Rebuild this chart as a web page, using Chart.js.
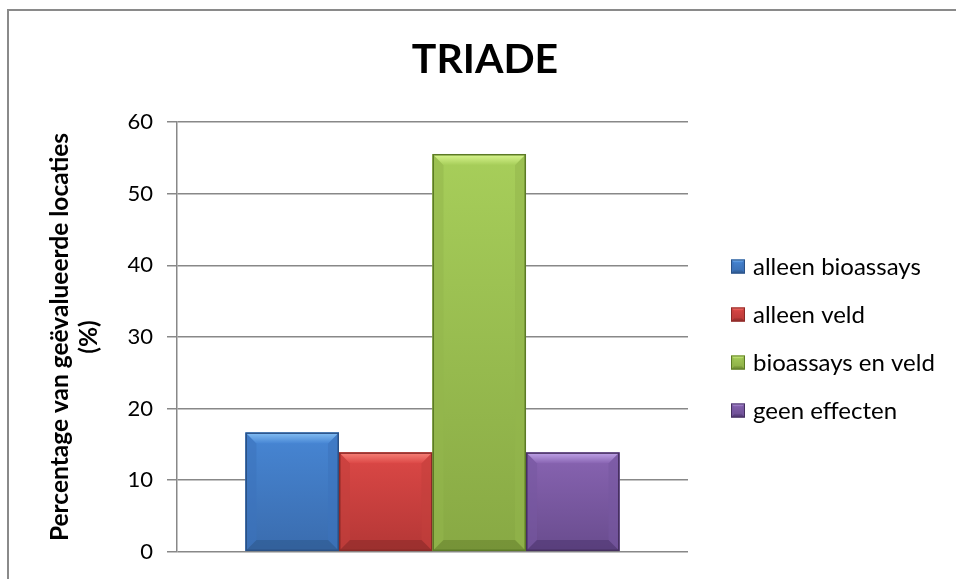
<!DOCTYPE html>
<html>
<head>
<meta charset="utf-8">
<title>TRIADE</title>
<script src="https://cdn.jsdelivr.net/npm/chart.js@4.4.1/dist/chart.umd.min.js"></script>
<style>
  html, body { margin: 0; padding: 0; background: #fff; }
  #wrap { width: 956px; height: 579px; position: relative; }
</style>
</head>
<body>
<div id="wrap"><canvas id="triadeChart"></canvas></div>
<script>
const categories = [''];
const seriesNames = ['alleen bioassays', 'alleen veld', 'bioassays en veld', 'geen effecten'];
const seriesValues = [16.67, 13.89, 55.56, 13.89];
const yTicks = [0, 10, 20, 30, 40, 50, 60];

// body gradient, top bevel, bottom bevel, side bevel, outline
const palette = [
    { body: ['#4786d4', '#3a6cae'], top: '#86c0f4', bottom: '#2f5a90', side: '#3d73bb', line: '#2a5186' },
    { body: ['#dc4846', '#b43736'], top: '#f8847a', bottom: '#8c2b2a', side: '#c33f3d', line: '#8a2927' },
    { body: ['#a7ce5a', '#88a944'], top: '#dcf892', bottom: '#6a8631', side: '#94b74c', line: '#5c7a26' },
    { body: ['#8864b2', '#694c8e'], top: '#c2a6ea', bottom: '#4f3771', side: '#7757a0', line: '#45305f' }
];

const FONT = 'Lato, "Open Sans", sans-serif';

function bevelRect(ctx, p, l, t, r, b, bv, lw) {
    ctx.save();
    const g = ctx.createLinearGradient(0, t, 0, b);
    g.addColorStop(0, p.body[0]);
    g.addColorStop(1, p.body[1]);
    ctx.fillStyle = g;
    ctx.fillRect(l, t, r - l, b - t);

    // sides
    ctx.fillStyle = p.side;
    ctx.globalAlpha = 0.55;
    ctx.beginPath();
    ctx.moveTo(l, t); ctx.lineTo(l + bv, t + bv); ctx.lineTo(l + bv, b - bv); ctx.lineTo(l, b);
    ctx.closePath(); ctx.fill();
    ctx.beginPath();
    ctx.moveTo(r, t); ctx.lineTo(r - bv, t + bv); ctx.lineTo(r - bv, b - bv); ctx.lineTo(r, b);
    ctx.closePath(); ctx.fill();
    ctx.globalAlpha = 1;

    // top
    const tg = ctx.createLinearGradient(0, t, 0, t + bv);
    tg.addColorStop(0, p.top);
    tg.addColorStop(1, p.body[0]);
    ctx.fillStyle = tg;
    ctx.beginPath();
    ctx.moveTo(l, t); ctx.lineTo(r, t); ctx.lineTo(r - bv, t + bv); ctx.lineTo(l + bv, t + bv);
    ctx.closePath(); ctx.fill();

    // bottom
    ctx.fillStyle = p.bottom;
    ctx.globalAlpha = 0.6;
    ctx.beginPath();
    ctx.moveTo(l, b); ctx.lineTo(r, b); ctx.lineTo(r - bv, b - bv); ctx.lineTo(l + bv, b - bv);
    ctx.closePath(); ctx.fill();
    ctx.globalAlpha = 1;

    ctx.strokeStyle = p.line;
    ctx.lineWidth = lw;
    ctx.strokeRect(l + lw / 2, t + lw / 2, r - l - lw, b - t - lw);
    ctx.restore();
}

// outer frame, runs off the right and bottom edges
const framePlugin = {
    id: 'frame',
    beforeDraw(chart) {
        const ctx = chart.ctx;
        ctx.save();
        ctx.strokeStyle = '#8a8a8a';
        ctx.lineWidth = 2;
        ctx.strokeRect(8, 10, 2000, 2000);
        ctx.restore();
    }
};

// bevelled look on top of each bar
const bevelPlugin = {
    id: 'bevel',
    afterDatasetsDraw(chart) {
        const ctx = chart.ctx;
        chart.data.datasets.forEach((ds, i) => {
            chart.getDatasetMeta(i).data.forEach(bar => {
                const l = bar.x - bar.width / 2, r = bar.x + bar.width / 2;
                const bv = Math.min(11, (bar.base - bar.y) / 2);
                bevelRect(ctx, palette[i], l, bar.y, r, bar.base, bv, 1.5);
            });
        });
    }
};

// legend to the right of the plot, vertically centred on it
const sideLegend = {
    id: 'sideLegend',
    afterDraw(chart) {
        const ctx = chart.ctx;
        const area = chart.chartArea;
        const x = area.right + 43;
        const mid = (area.top + area.bottom) / 2 + 1.5;
        const step = 48;
        const n = chart.data.datasets.length;
        ctx.save();
        ctx.font = '24px ' + FONT;
        ctx.textBaseline = 'middle';
        chart.data.datasets.forEach((ds, i) => {
            const cy = mid + (i - (n - 1) / 2) * step;
            bevelRect(ctx, palette[i], x, cy - 7, x + 14, cy + 7, 3, 1);
            ctx.fillStyle = '#000';
            ctx.fillText(ds.label, x + 22, cy + 1);
        });
        ctx.restore();
    }
};

const ctx = document.getElementById('triadeChart').getContext('2d');

new Chart(ctx, {
    type: 'bar',
    data: {
        labels: categories,
        datasets: seriesNames.map((name, i) => ({
            label: name,
            data: [seriesValues[i]],
            backgroundColor: palette[i].body[0],
            borderWidth: 0,
            categoryPercentage: 0.732,
            barPercentage: 1
        }))
    },
    options: {
        responsive: true,
        maintainAspectRatio: false,
        animation: false,
        layout: { padding: { left: 33, right: 19, top: 0, bottom: 24 } },
        plugins: {
            title: {
                display: true,
                text: 'TRIADE',
                color: '#000',
                font: { family: FONT, size: 41, weight: 'bold' },
                padding: { top: 35, bottom: 38 }
            },
            legend: { display: false },
            tooltip: { enabled: false }
        },
        scales: {
            x: { display: false },
            y: {
                min: 0,
                max: 60,
                afterBuildTicks(scale) {
                    scale.ticks = yTicks.map(v => ({ value: v }));
                },
                afterFit(scale) { scale.width = 177 - 33; },
                ticks: {
                    color: '#000',
                    padding: 14,
                    font: { family: FONT, size: 22 }
                },
                grid: { color: '#888', lineWidth: 1.5, tickLength: 10 },
                border: { display: true, color: '#888', width: 1.5 },
                title: {
                    display: true,
                    text: ['Percentage van geëvalueerde locaties', '(%)'],
                    color: '#000',
                    font: { family: FONT, size: 24.5, weight: 'bold', lineHeight: 1.2 },
                    padding: { top: 12, bottom: 0 }
                }
            },
            // empty column that holds the legend
            legendSpace: {
                position: 'right',
                display: true,
                grid: { display: false, drawTicks: false },
                border: { display: false },
                ticks: { display: false },
                afterFit(scale) { scale.width = 937 - 688; }
            }
        }
    },
    plugins: [framePlugin, bevelPlugin, sideLegend]
});
</script>
</body>
</html>
